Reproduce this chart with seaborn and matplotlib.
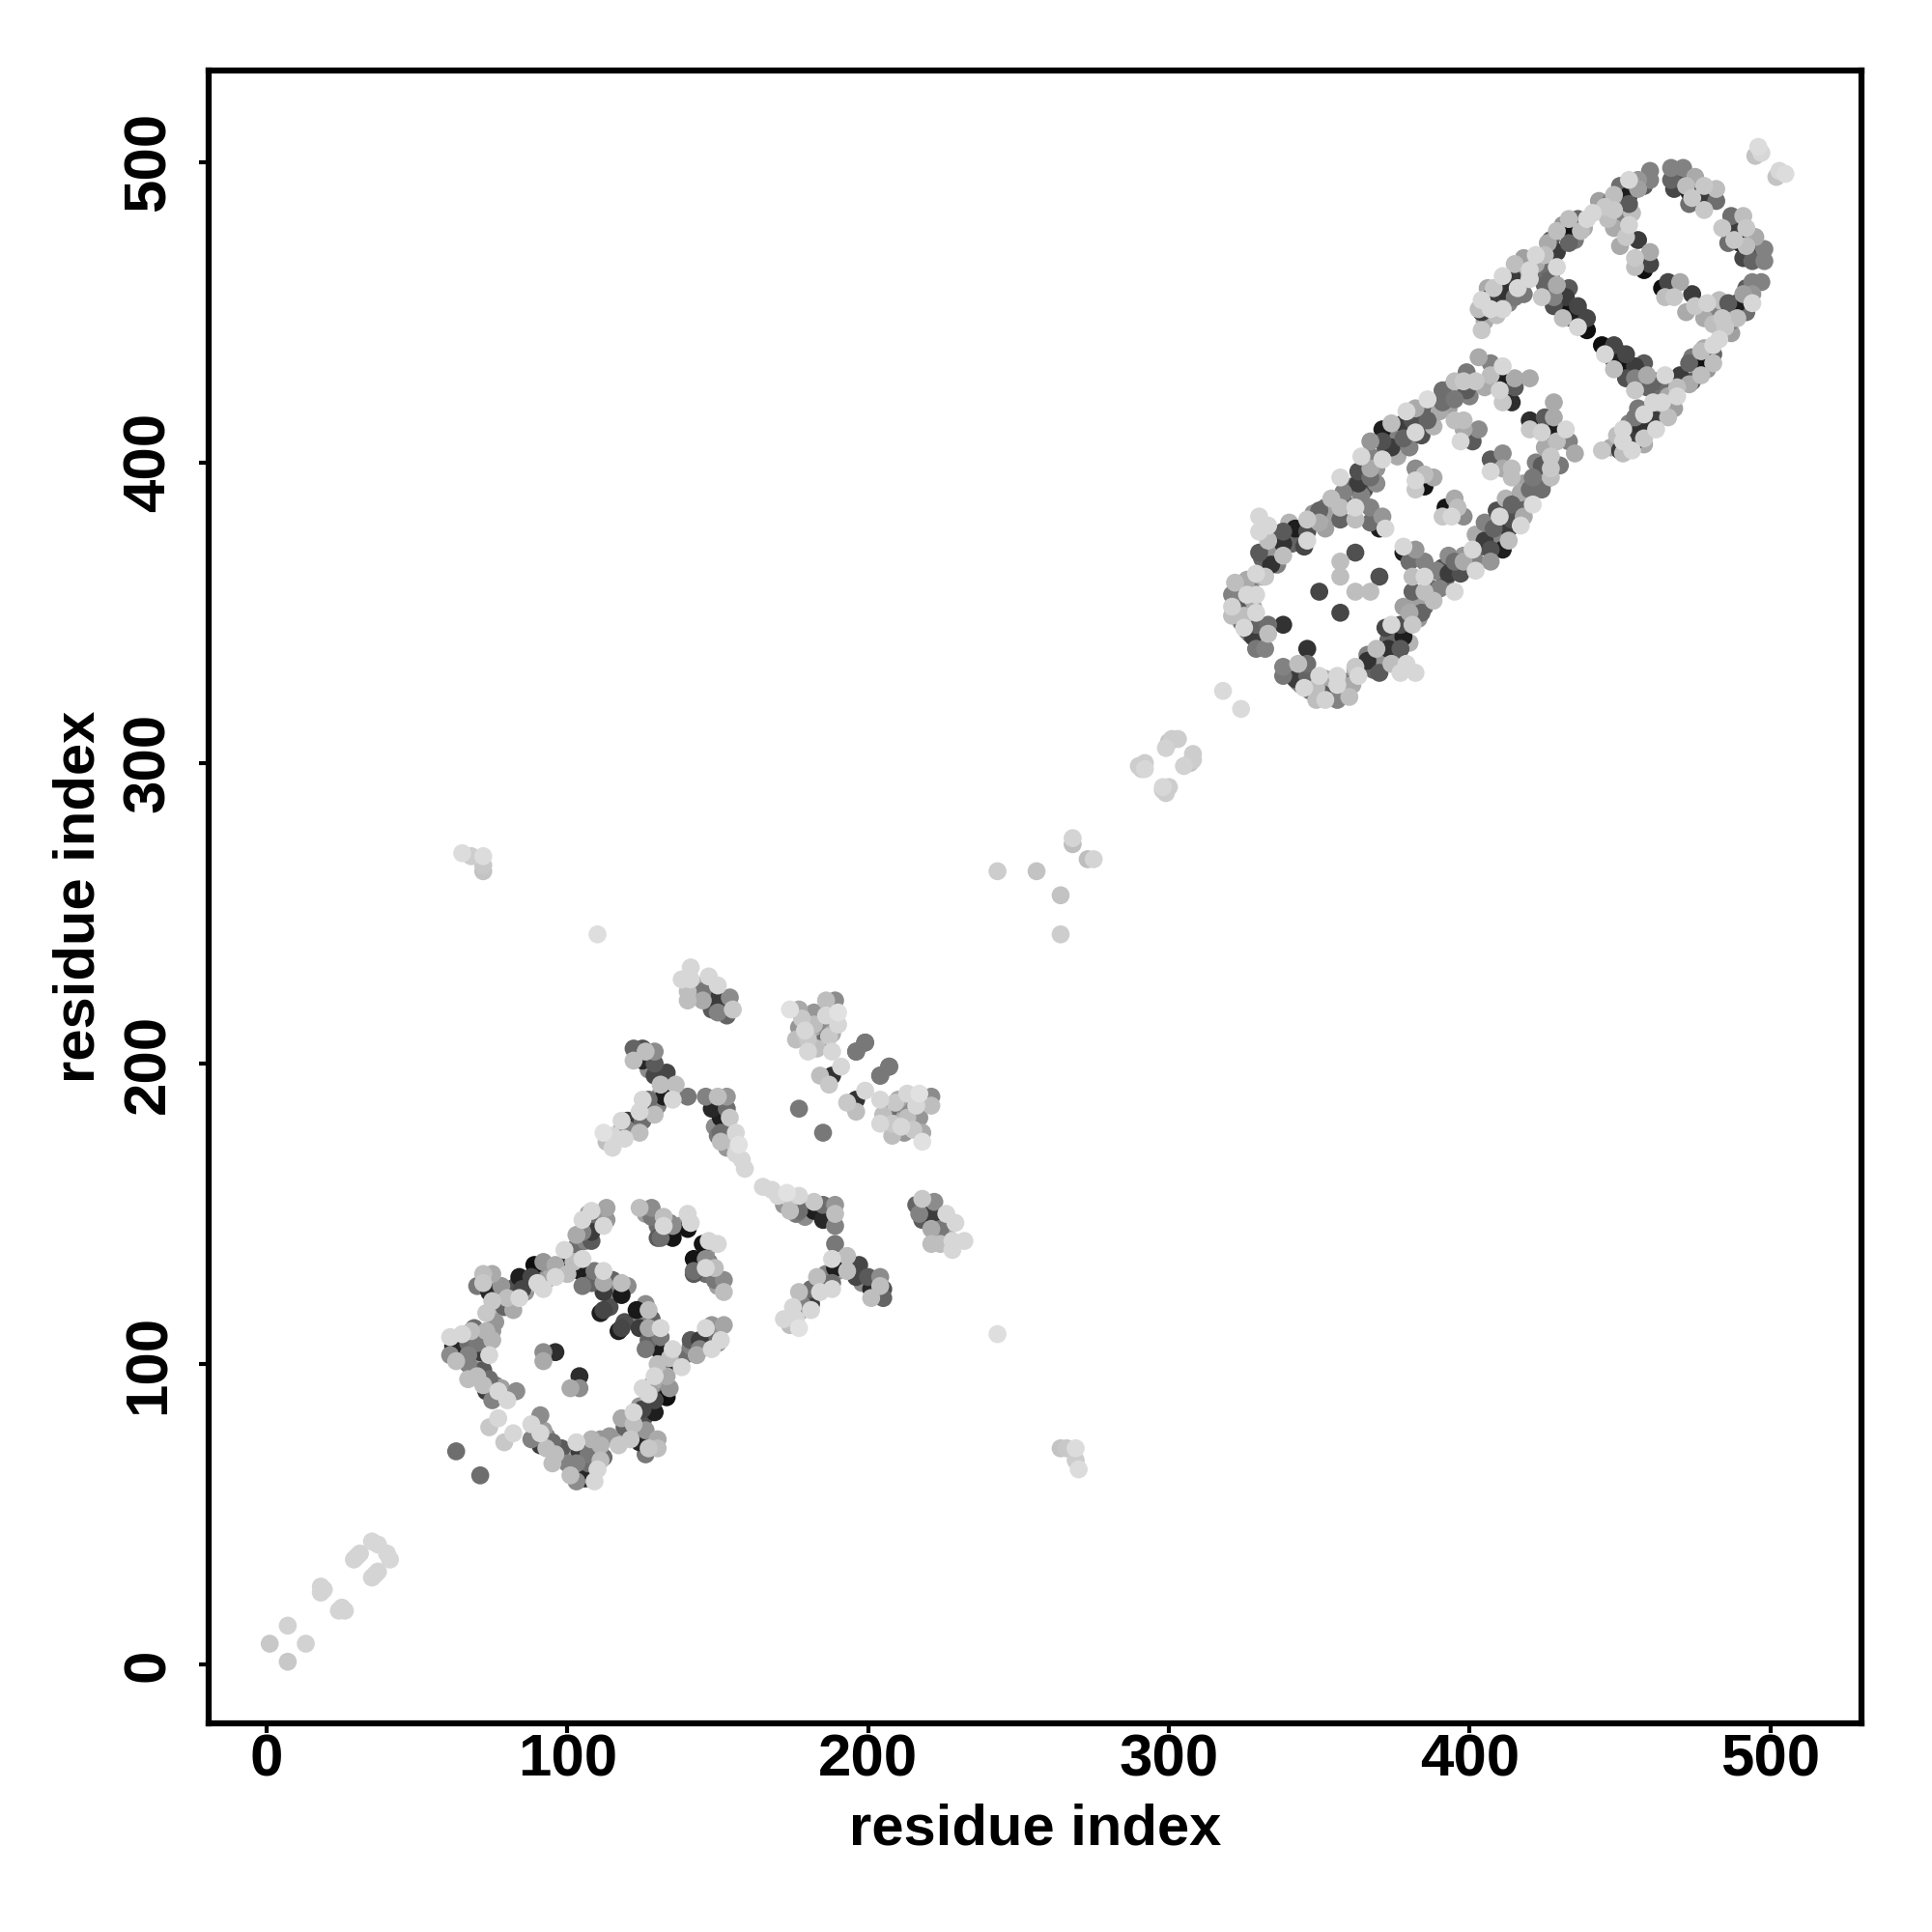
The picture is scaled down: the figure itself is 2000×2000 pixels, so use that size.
import numpy as np
import pandas as pd
import matplotlib
matplotlib.use("Agg")
import matplotlib.pyplot as plt
import seaborn as sns

# contacts above the diagonal, the map is symmetric. shade is the grey level 0-255
ends_i = [1, 7, 18, 18, 19, 29, 30, 31, 35, 37, 110, 65, 68, 72, 72, 72, 243, 256, 268, 268, 290, 291, 292, 292, 299, 300, 301, 303, 318, 496, 497, 495]
ends_j = [7, 13, 26, 24, 25, 35, 36, 37, 41, 40, 243, 270, 269, 269, 266, 264, 264, 264, 275, 273, 299, 298, 300, 298, 305, 307, 308, 308, 324, 505, 503, 502]
ends_shade = [200, 210, 212, 212, 212, 212, 212, 212, 215, 215, 222, 220, 205, 220, 200, 195, 205, 195, 212, 190, 205, 205, 205, 215, 210, 195, 205, 205, 218, 220, 215, 195]

ring_a_i = [61, 62, 61, 63, 65, 67, 67, 68, 70, 73, 75, 75, 71, 74, 67, 67, 70, 74, 73, 72, 77, 75, 80, 83, 74, 77,
            72, 75, 72, 74, 75, 73, 78, 80, 84, 85, 84, 89, 88, 92, 90, 92, 96, 96, 99, 102, 103, 105, 105, 108, 112, 108, 113, 113,
            100, 100, 104, 105, 109, 112, 105, 108, 112, 112, 118, 118, 111, 112,
            124, 128, 128, 132, 132, 135, 131, 135, 140, 141, 140, 92, 92, 96, 63]
ring_a_j = [109, 106, 103, 101, 110, 107, 103, 111, 107, 111, 111, 108, 104, 103, 100, 95, 96, 95, 91, 93, 91, 88, 88, 91, 79, 82,
            130, 130, 127, 124, 121, 117, 126, 122, 122, 125, 129, 133, 129, 134, 127, 125, 133, 129, 138, 134, 143, 144, 148, 144, 146, 151, 148, 152,
            133, 130, 131, 135, 131, 131, 126, 127, 127, 124, 123, 127, 117, 118,
            152, 152, 149, 149, 146, 146, 142, 142, 150, 147, 145, 104, 101, 104, 71]
ring_a_shade = [215, 40, 140, 190, 215, 110, 130, 190, 120, 180, 150, 180, 60, 215, 130, 190, 190, 110, 60, 190, 215, 130, 215, 140, 200, 215,
                190, 170, 200, 40, 200, 200, 150, 190, 215, 70, 30, 15, 70, 150, 215, 215, 170, 215, 215, 190, 170, 130, 215, 60, 215, 215, 150, 165,
                30, 190, 30, 215, 120, 215, 120, 100, 170, 60, 25, 190, 30, 70,
                190, 140, 120, 190, 215, 140, 110, 20, 215, 215, 20, 140, 170, 45, 110]

fork_i = [122, 125, 122, 125, 126, 129, 129, 129, 133, 131, 136, 132, 135, 140,
          127, 125, 129, 126, 124, 120, 125, 118, 124, 120, 119, 115, 112, 115,
          146, 150, 153, 148, 153, 154, 151, 151, 151, 156, 157, 156, 159]
fork_j = [205, 205, 201, 201, 204, 204, 200, 196, 197, 193, 193, 189, 188, 189,
          188, 188, 183, 184, 184, 181, 181, 181, 177, 178, 175, 176, 177, 172,
          189, 189, 189, 185, 185, 182, 182, 177, 174, 177, 173, 170, 165]
fork_shade = [100, 80, 190, 40, 190, 140, 90, 70, 70, 190, 190, 30, 215, 120,
              110, 215, 190, 60, 215, 60, 110, 215, 190, 130, 215, 215, 225, 215,
              130, 190, 150, 40, 110, 200, 30, 110, 190, 215, 225, 215, 215]

patch_c_i = [145, 150, 153, 150, 149, 141, 138, 141, 140, 140, 147, 145, 150, 154, 155]
patch_c_j = [224, 221, 216, 217, 222, 232, 228, 228, 224, 221, 229, 221, 226, 222, 218]
patch_c_shade = [120, 60, 100, 130, 20, 215, 215, 215, 190, 190, 215, 170, 215, 140, 200]

patch_f_i = [174, 177, 178, 182, 179, 180, 180, 183, 182, 186, 189, 186, 190, 190, 187, 188, 191, 188, 184, 187, 199, 196, 207, 204, 177]
patch_f_j = [218, 218, 215, 217, 211, 208, 204, 205, 213, 221, 221, 216, 217, 213, 209, 204, 199, 196, 196, 193, 207, 204, 199, 196, 185]
patch_f_shade = [225, 170, 200, 150, 215, 200, 215, 190, 190, 190, 140, 215, 225, 215, 200, 215, 215, 50, 190, 200, 120, 120, 120, 120, 120]

ring_b_i = [322, 321, 321, 321, 326, 326, 329, 329, 332, 330, 333, 334, 330, 330, 333, 338, 338, 338, 342, 346, 346, 346, 350, 350, 354,
            357, 357, 358, 357, 362, 362, 363, 363, 367, 367, 364, 367, 371, 367, 371, 371, 374, 374, 378, 378, 379, 382, 382, 381, 386, 386,
            391, 391, 395, 395, 399, 399, 398, 403, 402, 407, 407, 411, 410, 415, 415, 410, 414, 411, 420,
            367, 367, 371, 370, 372, 395, 398, 398, 403, 397, 401,
            382, 382, 382, 385, 385, 388, 362, 357, 357, 350, 338, 333, 329, 333, 328, 329, 332, 325, 325, 329, 325]
ring_b_j = [360, 356, 352, 349, 361, 356, 356, 363, 362, 370, 374, 366, 382, 377, 379, 377, 373, 369, 378, 381, 377, 374, 380, 384, 388,
            381, 385, 390, 395, 381, 385, 397, 393, 395, 398, 402, 402, 401, 407, 411, 407, 413, 405, 408, 413, 417, 410, 418, 414, 421, 414,
            424, 420, 421, 427, 430, 424, 427, 435, 427, 433, 429, 432, 428, 428, 425, 424, 420, 420, 428,
            385, 380, 382, 378, 378, 414, 414, 411, 411, 407, 407,
            398, 394, 391, 396, 392, 395, 370, 367, 362, 357, 346, 346, 346, 343, 342, 338, 338, 346, 349, 350, 345]
ring_b_shade = [190, 130, 210, 190, 170, 215, 215, 215, 200, 90, 190, 50, 215, 215, 215, 90, 50, 190, 30, 200, 80, 215, 170, 100, 190,
                100, 190, 130, 215, 190, 215, 80, 60, 110, 170, 215, 130, 215, 150, 30, 80, 190, 60, 100, 60, 215, 215, 170, 80, 220, 100,
                110, 110, 120, 190, 120, 90, 200, 170, 200, 130, 190, 215, 30, 170, 90, 210, 45, 200, 170,
                130, 110, 150, 30, 215, 190, 190, 170, 140, 215, 90,
                140, 215, 200, 190, 20, 170, 80, 190, 190, 70, 50, 110, 100, 190, 60, 120, 130, 80, 190, 215, 215]

ring_c_i = [404, 403, 404, 404, 407, 407, 408, 411, 411, 411, 415, 415, 414, 416, 420, 422, 420, 422, 425, 426, 429, 429, 429, 433, 433, 432, 437, 436, 439,
            441, 445, 446, 448, 448, 448, 453, 453, 453, 453, 452, 456, 456, 460, 460,
            425, 424, 429, 428, 432, 428, 431, 431, 436, 434, 436, 439, 439,
            456, 460, 460, 458, 455, 455,
            467, 471, 467, 470, 472, 475, 474, 473, 478, 482, 482, 478, 478]
ring_c_j = [444, 451, 450, 454, 451, 455, 458, 462, 457, 451, 455, 466, 462, 458, 464, 469, 461, 466, 469, 473, 477, 470, 465, 473, 481, 477, 477, 481, 481,
            483, 485, 481, 489, 484, 478, 489, 494, 486, 479, 475, 494, 491, 497, 494,
            459, 455, 459, 455, 455, 452, 448, 452, 452, 448, 445, 448, 444,
            474, 470, 466, 464, 468, 465,
            498, 498, 494, 494, 492, 495, 488, 490, 492, 491, 487, 487, 484]
ring_c_shade = [200, 190, 60, 215, 215, 60, 200, 215, 50, 215, 120, 190, 60, 215, 215, 215, 215, 170, 190, 170, 190, 60, 215, 100, 190, 20, 190, 100, 215,
                215, 200, 190, 190, 200, 170, 30, 215, 90, 210, 200, 150, 160, 130, 130,
                100, 200, 170, 130, 60, 80, 190, 20, 70, 30, 215, 70, 15,
                60, 170, 70, 15, 200, 190,
                130, 130, 100, 80, 190, 170, 200, 30, 200, 190, 110, 60, 200]

# contacts mostly hidden by others, only their edges can be seen
hidden_i = [62, 64, 66, 69, 72, 70, 72, 76, 78, 70, 74, 76, 79, 82, 80, 83, 86, 88, 90, 93, 95, 98, 100, 103, 106, 108, 110, 107, 110, 115, 116, 114, 120, 126, 130, 134, 137, 130, 64, 63, 69, 76,
            123, 127, 131, 134, 128, 130, 122, 118, 113, 152, 149, 154, 153, 155, 150, 158,
            143, 146, 142, 152, 148, 180, 184, 183, 186, 181, 185, 188, 177, 176,
            323, 324, 327, 328, 331, 335, 336, 340, 344, 348, 352, 355, 360, 361, 365, 369, 372, 376, 380, 384, 388, 389, 393, 397, 400, 405, 408, 324, 327, 331, 335, 341, 345, 352, 358, 364, 369, 374, 379, 385, 390, 394, 323, 326,
            405, 406, 409, 410, 413, 417, 418, 421, 424, 427, 431, 435, 438, 443, 447, 450, 451, 454, 458, 450, 449, 427, 433, 437, 468, 473, 476, 480, 406, 412, 418, 424]
hidden_j = [105, 104, 102, 109, 106, 100, 98, 93, 92, 126, 128, 119, 119, 118, 125, 126, 124, 127, 130, 128, 131, 132, 136, 139, 141, 141, 147, 150, 149, 128, 124, 119, 126, 150, 146, 147, 146, 142, 107, 108, 112, 114,
            203, 198, 190, 191, 186, 186, 178, 178, 174, 180, 179, 175, 172, 174, 176, 168,
            226, 226, 223, 219, 218, 214, 215, 210, 212, 205, 207, 210, 212, 208,
            354, 358, 359, 352, 368, 371, 366, 380, 376, 383, 385, 383, 388, 392, 391, 393, 404, 402, 405, 409, 412, 417, 418, 423, 422, 425, 431, 347, 343, 362, 375, 373, 372, 378, 387, 389, 398, 409, 411, 416, 417, 425, 351, 344,
            447, 453, 449, 456, 453, 463, 456, 467, 463, 474, 479, 474, 478, 487, 487, 492, 482, 483, 492, 472, 480, 462, 458, 449, 491, 486, 488, 489, 458, 459, 468, 466]
hidden_shade = [150, 120, 170, 140, 110, 160, 90, 130, 160, 120, 170, 180, 100, 170, 140, 80, 150, 180, 120, 160, 170, 70, 180, 110, 130, 90, 120, 150, 110, 100, 130, 80, 140, 160, 110, 130, 150, 90, 120, 170, 110, 150,
                110, 140, 150, 160, 100, 130, 110, 150, 190, 110, 140, 190, 150, 200, 120, 215,
                160, 170, 110, 130, 90, 140, 110, 170, 140, 190, 110, 170, 150, 190,
                140, 180, 120, 170, 100, 150, 130, 180, 90, 150, 110, 160, 190, 100, 80, 140, 100, 170, 130, 80, 180, 110, 160, 80, 130, 170, 90, 120, 80, 170, 110, 100, 70, 160, 100, 130, 150, 130, 160, 100, 170, 150, 90, 120,
                170, 120, 190, 90, 130, 170, 120, 190, 110, 90, 150, 120, 170, 160, 120, 110, 150, 190, 90, 170, 130, 100, 90, 120, 70, 110, 90, 100, 170, 120, 160, 110]

res_i = ends_i + ring_a_i + fork_i + patch_c_i + patch_f_i + ring_b_i + ring_c_i
res_j = ends_j + ring_a_j + fork_j + patch_c_j + patch_f_j + ring_b_j + ring_c_j
shade = ends_shade + ring_a_shade + fork_shade + patch_c_shade + patch_f_shade + ring_b_shade + ring_c_shade

# both halves of the map. hidden ones go first, then dark to pale
front = pd.DataFrame({"x": res_i + res_j, "y": res_j + res_i, "shade": shade + shade})
back = pd.DataFrame({"x": hidden_i + hidden_j, "y": hidden_j + hidden_i, "shade": hidden_shade + hidden_shade})
df = pd.concat([back, front.sort_values("shade", kind="stable")], ignore_index=True)

x_ticks = [0, 100, 200, 300, 400, 500]

sns.set_theme(style="white")
plt.rcParams["font.family"] = ["Liberation Sans", "DejaVu Sans"]
plt.rcParams["font.weight"] = "bold"

fig, ax = plt.subplots(figsize=(20, 20), dpi=100)
fig.subplots_adjust(left=0.108, right=0.9635, bottom=0.108, top=0.9635)

sns.scatterplot(
    data=df, x="x", y="y", hue="shade", palette="gray",
    hue_norm=(0, 255), s=180, linewidth=0, legend=False, ax=ax,
)

ax.set_xlim(-19.3, 530.3)
ax.set_ylim(-19.5, 530.4)
ax.set_xticks(x_ticks)
ax.set_yticks(x_ticks)
ax.tick_params(axis="both", length=7.5, width=3, color="black", labelsize=44.5, labelcolor="black", left=True, bottom=True)
ax.tick_params(axis="x", pad=0)
ax.tick_params(axis="y", pad=16)
plt.setp(ax.get_yticklabels(), rotation=90, va="center")

for side in ax.spines.values():
    side.set_linewidth(4.5)
    side.set_color("black")

ax.set_xlabel("residue index", fontsize=43, fontweight="bold", color="black")
ax.set_ylabel("residue index", fontsize=43, fontweight="bold", color="black")
ax.xaxis.set_label_coords(0.5, -0.0485)
ax.yaxis.set_label_coords(-0.062, 0.5)

fig.savefig("out.png", dpi=100, facecolor="white")
